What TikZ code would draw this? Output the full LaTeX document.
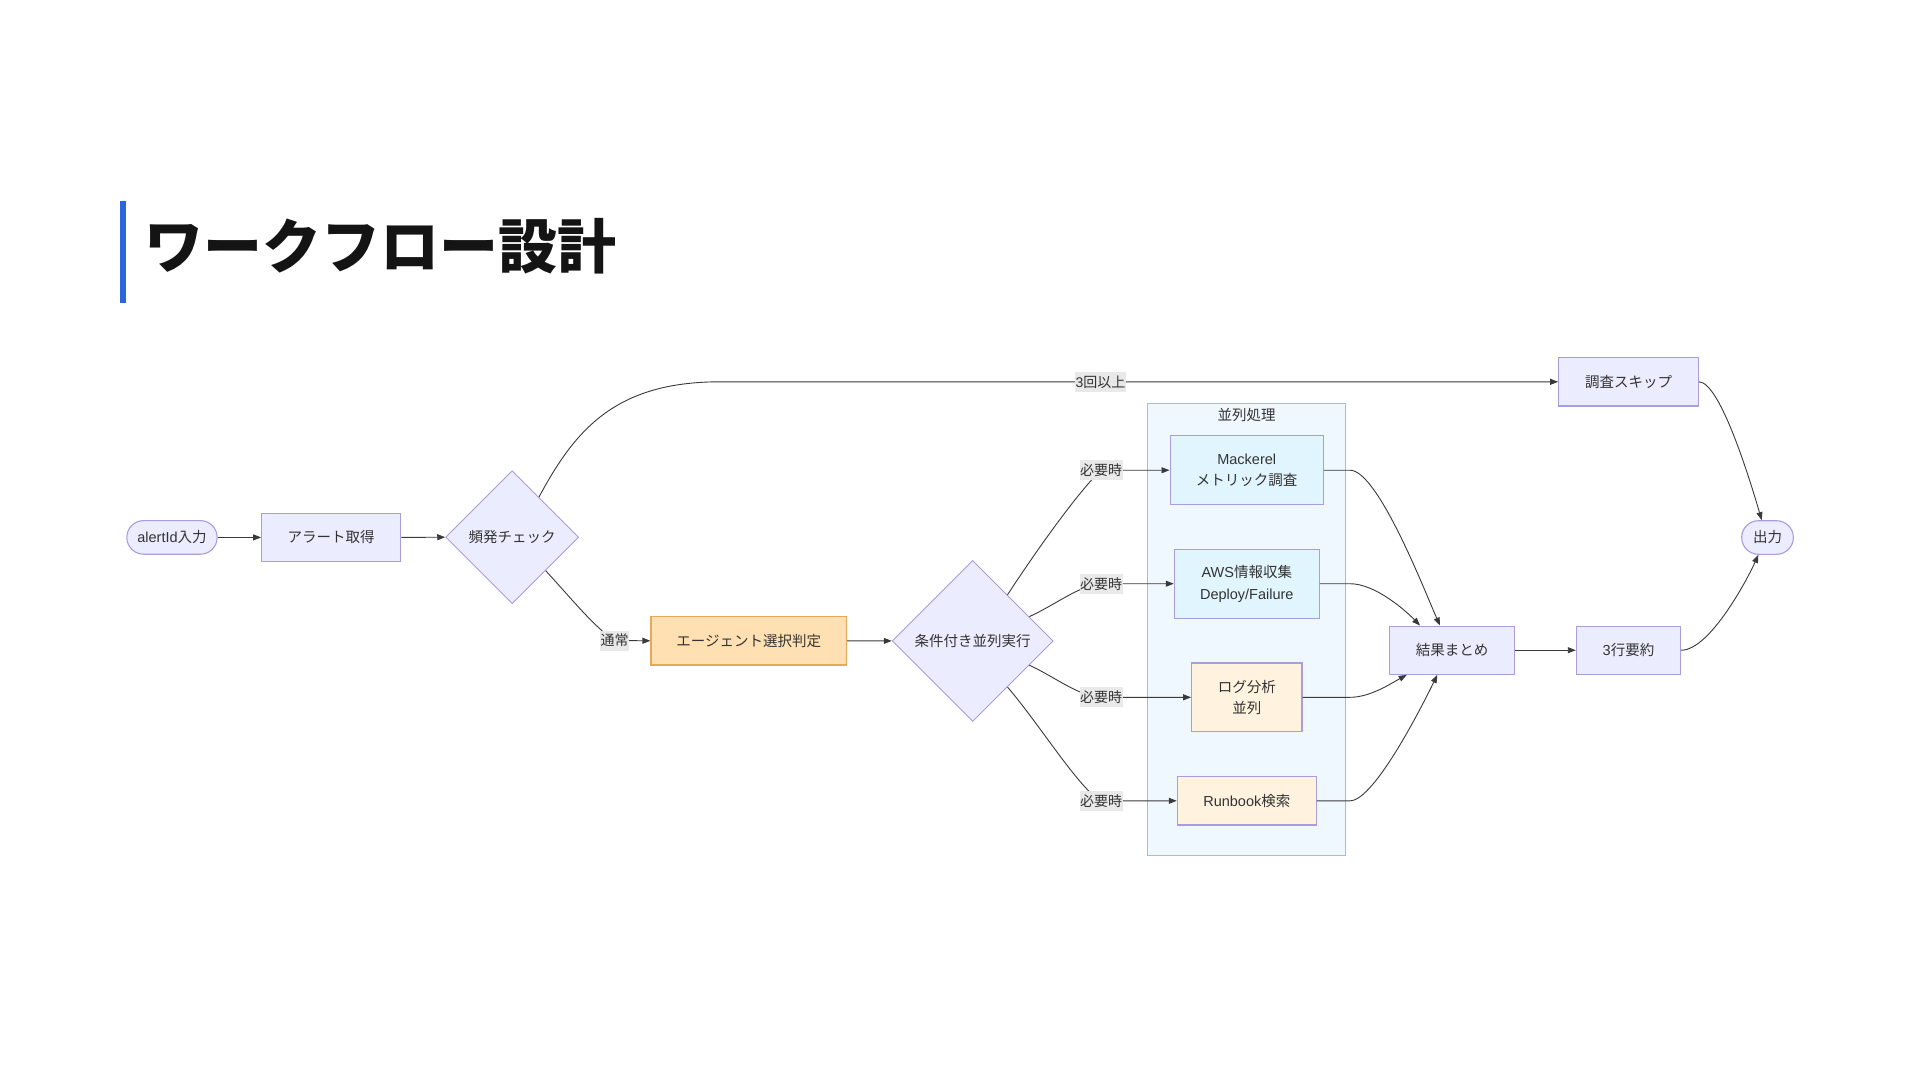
\documentclass[tikz,border=0pt]{standalone}
\usepackage{fontspec}
\setmainfont{Noto Sans CJK JP}
\newfontfamily\lat{Liberation Sans}
\usetikzlibrary{shapes.geometric,calc,arrows.meta}
\definecolor{nodefill}{HTML}{ECECFF}
\definecolor{nodestroke}{HTML}{A99CDF}
\definecolor{txt}{HTML}{333333}
\definecolor{edgec}{HTML}{3A3A3A}
\definecolor{lblbg}{HTML}{E8E8E8}
\definecolor{clfill}{HTML}{F0F8FF}
\definecolor{clstroke}{HTML}{93C5DC}
\definecolor{bluefill}{HTML}{E1F5FE}
\definecolor{orfill}{HTML}{FFF3E0}
\definecolor{agfill}{HTML}{FFE0B2}
\definecolor{agstroke}{HTML}{E9A857}
\definecolor{titlebar}{HTML}{2B66DE}
\begin{document}
\begin{tikzpicture}[x=1pt,y=-1pt,
  font=\fontsize{14.5}{21.4}\selectfont,
  box/.style={draw=nodestroke, fill=nodefill, line width=1.1pt, text=txt, inner sep=0pt, minimum height=48.3, align=center},
  stadium/.style={box, rounded corners=16.8pt, minimum height=33.6},
  dia/.style={draw=nodestroke, fill=nodefill, line width=0.9pt, text=txt, shape=diamond, aspect=1, inner sep=0pt},
  bluebox/.style={box, fill=bluefill, minimum height=69},
  orbox/.style={box, fill=orfill},
  agbox/.style={box, fill=agfill, draw=agstroke},
  edge/.style={draw=edgec, line width=0.9pt, -{Triangle[length=8pt,width=6pt]}},
  elabel/.style={fill=lblbg, fill opacity=0.95, text opacity=1, text=txt, inner xsep=0.5pt, inner ysep=0pt, minimum height=20, font=\fontsize{14}{16}\selectfont}
]
\fill[white] (0,0) rectangle (1920,1080);
% title
\fill[titlebar] (120,201) rectangle (126,303);
\node[anchor=base west, inner sep=0pt, text=black!92, font=\fontsize{59}{59}\selectfont\bfseries] (title) at (144,268) {ワークフロー設計};

% cluster
\draw[fill=clfill, draw=clstroke, line width=1.2pt] (1147.7,403.7) rectangle (1345.7,855.7);
\node[text=txt, inner sep=0pt] (cltitle) at (1246.7,415) {並列処理};

% nodes
\node[stadium, minimum width=90.3] (alert) at (172,537.4) {{\lat alertId}入力};
\node[box, minimum width=139] (fetch) at (331.2,537.4) {アラート取得};
\node[dia, minimum size=133] (d1) at (512.2,537.2) {頻発チェック};
\node[agbox, minimum width=195.7] (agent) at (748.8,640.8) {エージェント選択判定};
\node[dia, minimum size=161] (d2) at (972.7,640.9) {条件付き並列実行};
\node[bluebox, minimum width=153.3] (mack) at (1246.7,470.2) {{\lat Mackerel}\\メトリック調査};
\node[bluebox, minimum width=145, minimum height=69.3] (aws) at (1246.8,583.7) {{\lat AWS}情報収集\\{\lat Deploy/Failure}};
\node[orbox, minimum width=110.3, minimum height=68.7] (log) at (1246.8,697.3) {ログ分析\\並列};
\node[orbox, minimum width=139] (rb) at (1246.8,800.8) {{\lat Runbook}検索};
\node[box, minimum width=125.3] (res) at (1452,650.2) {結果まとめ};
\node[box, minimum width=104.3] (sum) at (1628.5,650.2) {{\lat 3}行要約};
\node[box, minimum width=139.7] (skip) at (1628.5,381.8) {調査スキップ};
\node[stadium, minimum width=51.7, rounded corners=16.8pt] (out) at (1767.5,537.5) {出力};

% label positions
\coordinate (lthree) at (1100.5,381.8);
\coordinate (lnorm) at (614.7,640.5);
\coordinate (la) at (1101,470.2);
\coordinate (lb) at (1101,583.7);
\coordinate (lc) at (1101,697.3);
\coordinate (ld) at (1101,800.8);

% edges
\draw[edge] (alert.east) -- (fetch.west);
\draw[edge] (fetch.east) -- (d1.west);
\draw[edge] (agent.east) -- (d2.west);
\draw[edge] (res.east) -- (sum.west);

\draw[edge] ($(d1.north)!0.4!(d1.east)$) .. controls (575,430) and (615,381.8) .. (720,381.8) -- (lthree) -- (skip.west);
\draw[edge] ($(d1.south)!0.5!(d1.east)$) .. controls (570,597) and (595,628) .. (lnorm) -- (agent.west);

\draw[edge] ($(d2.north)!0.43!(d2.east)$) .. controls (1040,545) and (1080,490) .. (la) -- (mack.west);
\draw[edge] ($(d2.north)!0.7!(d2.east)$) .. controls (1055,605) and (1080,585) .. (lb) -- (aws.west);
\draw[edge] ($(d2.south)!0.7!(d2.east)$) .. controls (1055,677) and (1080,697) .. (lc) -- (log.west);
\draw[edge] ($(d2.south)!0.43!(d2.east)$) .. controls (1040,725) and (1080,790) .. (ld) -- (rb.west);

\draw[edge] (mack.east) -- (1350,470.2) .. controls (1378,470.2) and (1425,592) .. ([xshift=-12pt]res.north);
\draw[edge] (aws.east) -- (1350,583.7) .. controls (1375,583.7) and (1405,610) .. ([xshift=-32pt]res.north);
\draw[edge] (log.east) -- (1350,697.3) .. controls (1370,697.3) and (1390,684) .. ([xshift=-45.3pt]res.south);
\draw[edge] (rb.east) -- (1350,800.8) .. controls (1375,800.8) and (1425,700) .. ([xshift=-14.7pt]res.south);

\draw[edge] (sum.east) .. controls (1710,650.2) and (1748,578) .. ([xshift=-9.2pt]out.south);
\draw[edge] (skip.east) .. controls (1720,381.8) and (1750,480) .. ([xshift=-5.8pt]out.north);

% edge labels
\node[elabel] (t3) at (lthree) {{\lat 3}回以上};
\node[elabel] (tn) at (lnorm) {通常};
\node[elabel] (ta) at (la) {必要時};
\node[elabel] (tb) at (lb) {必要時};
\node[elabel] (tc) at (lc) {必要時};
\node[elabel] (td) at (ld) {必要時};
\end{tikzpicture}
\end{document}
